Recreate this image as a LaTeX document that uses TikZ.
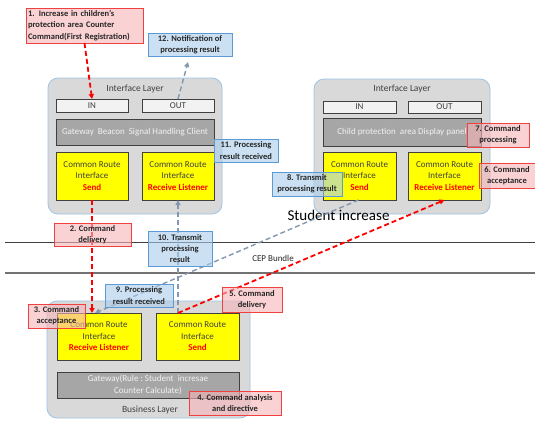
\documentclass[tikz,border=0pt]{standalone}
\usepackage{fontspec}
\setmainfont{Carlito}
\usetikzlibrary{arrows.meta,calc}
\definecolor{layerfill}{HTML}{D9D9D9}
\definecolor{layerline}{HTML}{9DC3E6}
\definecolor{boxline}{HTML}{404040}
\definecolor{iofill}{HTML}{F2F2F2}
\definecolor{gwfill}{HTML}{A6A6A6}
\definecolor{ylw}{HTML}{FFFF00}
\definecolor{redtxt}{HTML}{FF0000}
\definecolor{redfill}{HTML}{F8B4B8}
\definecolor{redline}{HTML}{F04040}
\definecolor{bluefill}{HTML}{A9CDEB}
\definecolor{blueline}{HTML}{5B9BD5}
\definecolor{grayarr}{HTML}{8497B0}
\begin{document}
\begin{tikzpicture}[x=1pt,y=-1pt,
  every node/.style={inner sep=0pt,outer sep=0pt},
  layer/.style={draw=layerline,line width=0.8pt,fill=layerfill,rounded corners=10pt},
  layerlabel/.style={text=boxline,font=\fontsize{9.5}{11}\selectfont},
  iobox/.style={draw=boxline,line width=0.8pt,fill=iofill,font=\fontsize{9}{11}\selectfont,text=boxline},
  gwbox/.style={draw=boxline,line width=0.8pt,fill=gwfill,font=\fontsize{9}{11.5}\selectfont,text=iofill,align=center},
  ybox/.style={draw=boxline,line width=0.8pt,fill=ylw,font=\fontsize{9}{11.5}\selectfont,text=boxline,align=center},
  callout/.style={line width=0.8pt,fill opacity=0.6,text opacity=1,font=\bfseries\fontsize{8.5}{11.3}\selectfont,align=center,text=black!85},
  redcall/.style={callout,draw=redline,fill=redfill},
  bluecall/.style={callout,draw=blueline,fill=bluefill},
  redarrow/.style={draw=redtxt,line width=1.8pt,dash pattern=on 5pt off 3pt,-{Triangle[length=5pt,width=5pt]}},
  grayarrow/.style={draw=grayarr,line width=1.4pt,dash pattern=on 5pt off 3pt,-{Triangle[length=5pt,width=5pt]}}
]
\useasboundingbox[fill=white] (0,0) rectangle (535,420);

% separator lines
\coordinate (s1a) at (5,242);
\coordinate (s1b) at (535,242);
\coordinate (s2a) at (5,273);
\coordinate (s2b) at (535,273);
\draw[boxline,line width=1pt] (s1a) -- (s1b);
\draw[black!55,line width=1.4pt] (s2a) -- (s2b);
\node[font=\fontsize{9}{10}\selectfont,text=black!85] (cep) at (273,258) {CEP Bundle};

% left interface layer
\node[layer,minimum width=174pt,minimum height=136pt] (L1) at (135,146) {};
\node[layerlabel] (L1t) at (135,89) {Interface Layer};
\node[iobox,minimum width=72pt,minimum height=13pt] (IN1) at (92,105.5) {IN};
\node[iobox,minimum width=72pt,minimum height=13pt] (OUT1) at (178,105.5) {OUT};
\node[gwbox,minimum width=158pt,minimum height=26pt] (GW1) at (135,132) {Gateway\ \ Beacon\ \ Signal Handling Client};
\node[ybox,minimum width=72pt,minimum height=48pt] (Send1) at (92,176) {Common Route\\Interface\\{\bfseries\color{redtxt}Send}};
\node[ybox,minimum width=72pt,minimum height=48pt] (RL1) at (178,176) {Common Route\\Interface\\{\bfseries\color{redtxt}Receive Listener}};

% right interface layer
\node[layer,minimum width=176pt,minimum height=135pt] (L2) at (402,146.5) {};
\node[layerlabel] (L2t) at (402,89) {Interface Layer};
\node[iobox,minimum width=73pt,minimum height=12pt] (IN2) at (359.5,107) {IN};
\node[iobox,minimum width=73pt,minimum height=12pt] (OUT2) at (444.5,107) {OUT};
\node[gwbox,minimum width=158pt,minimum height=28pt] (GW2) at (402,132) {Child protection\ \ area Display panel};
\node[ybox,minimum width=73pt,minimum height=48pt] (Send2) at (359.5,176) {Common Route\\Interface\\{\bfseries\color{redtxt}Send}};
\node[ybox,minimum width=73pt,minimum height=48pt] (RL2) at (444.5,176) {Common Route\\Interface\\{\bfseries\color{redtxt}Receive Listener}};

\node[font=\fontsize{15}{17}\selectfont,text=black] (stud) at (338.5,215) {Student increase};

% business layer
\node[layer,minimum width=203pt,minimum height=117pt] (L3) at (148.5,359.5) {};
\node[ybox,minimum width=84pt,minimum height=47pt] (RL3) at (99,336.5) {Common Route\\Interface\\{\bfseries\color{redtxt}Receive Listener}};
\node[ybox,minimum width=83pt,minimum height=47pt] (Send3) at (197.5,336.5) {Common Route\\Interface\\{\bfseries\color{redtxt}Send}};
\node[gwbox,minimum width=182pt,minimum height=26pt] (GW3) at (148,385) {Gateway(Rule\ :\ Student\ \ incresae\\Counter Calculate)};
\node[layerlabel] (L3t) at (150,410) {Business Layer};

% callouts drawn before connectors
\node[redcall,minimum width=117pt,minimum height=35pt,align=left,text width=113pt] (c1) at (84.5,25.5) {1. Increase in children's\\protection area Counter\\Command(First Registration)};
\node[bluecall,minimum width=84pt,minimum height=23pt] (c12) at (190,44.5) {12. Notification of\\processing result};

% connectors
\draw[redarrow] (c1.south) -- (IN1.north);
\draw[grayarrow] (OUT1.north) -- ($(c12.south)+(-2,6)$);
\draw[redarrow] (Send1.south) -- (Send1.south |- RL3.north);
\draw[grayarrow] (Send3.north -| RL1.south) -- (RL1.south);
\draw[redarrow] (Send3.north -| RL1.south) -- (RL2.south);
\draw[grayarrow] ($(Send2.south)+(-1,0)$) -- ($(RL3.north)+(-4,0)$);

\node[bluecall,minimum width=64pt,minimum height=23pt] (c11) at (246,150.5) {11. Processing\\result received};
\node[bluecall,minimum width=70pt,minimum height=24pt] (c8) at (307,184) {8. Transmit\\processing result};
\node[redcall,minimum width=62pt,minimum height=24pt] (c7) at (498,135) {7. Command\\processing};
\node[redcall,minimum width=56pt,minimum height=25pt] (c6) at (507,175.5) {6. Command\\acceptance};
\node[redcall,minimum width=77pt,minimum height=23pt] (c2) at (92.5,234.5) {2. Command\\delivery};
\node[bluecall,minimum width=64pt,minimum height=35pt] (c10) at (180,248.5) {10. Transmit\\processing\\result};
\node[bluecall,minimum width=68pt,minimum height=23pt] (c9) at (139,295.5) {9. Processing\\result received};
\node[redcall,minimum width=57pt,minimum height=24pt] (c3) at (56.5,316) {3. Command\\acceptance};
\node[redcall,minimum width=60pt,minimum height=25pt] (c5) at (252,299.5) {5. Command\\delivery};
\node[redcall,minimum width=92pt,minimum height=24pt] (c4) at (235,403) {4. Command analysis\\and directive};
\end{tikzpicture}
\end{document}
